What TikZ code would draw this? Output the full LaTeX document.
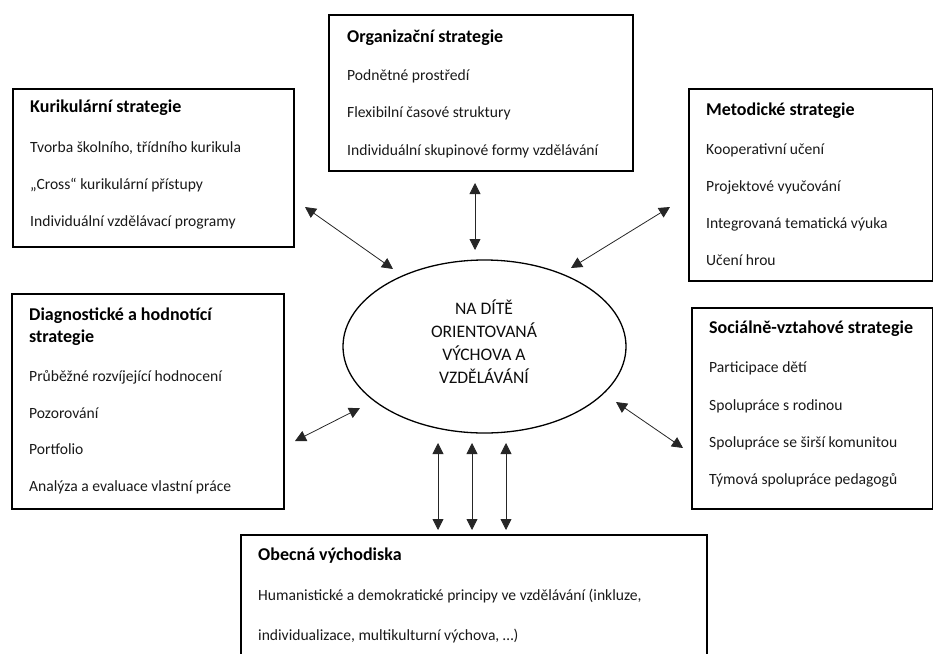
\documentclass[tikz,border=0pt]{standalone}
\usepackage{fontspec}
\setmainfont{Carlito}
\usetikzlibrary{arrows.meta,shapes.geometric}
\tikzset{
  frame/.style={draw=black, line width=1.9pt, anchor=north west, inner sep=0pt},
  ttl/.style={anchor=base west, inner sep=0pt, font=\fontsize{18pt}{22pt}\selectfont\bfseries},
  item/.style={anchor=base west, inner sep=0pt, text=black!90, font=\fontsize{15.6pt}{18pt}\selectfont},
  coretxt/.style={anchor=base, inner sep=0pt, text=black!95, font=\fontsize{17.6pt}{22pt}\selectfont},
  link/.style={{Triangle[length=11pt,width=11pt]}-{Triangle[length=11pt,width=11pt]}, line width=0.8pt, draw=black!85}
}
\begin{document}
\begin{tikzpicture}[x=1pt,y=-1pt]
\useasboundingbox (0,0) rectangle (933,653);
% boxes
\node[frame, minimum width=281pt, minimum height=158pt] (kur) at (12,88) {};
\node[frame, minimum width=304pt, minimum height=156pt] (org) at (328,14) {};
\node[frame, minimum width=244pt, minimum height=192pt] (met) at (688,88) {};
\node[frame, minimum width=241pt, minimum height=201pt] (soc) at (691,307) {};
\node[frame, minimum width=272pt, minimum height=215pt] (diag) at (11,293) {};
\node[frame, minimum width=466pt, minimum height=130pt] (obec) at (240,534) {};
\node[draw, ellipse, line width=1.3pt, minimum width=283pt, minimum height=173pt, inner sep=0pt] (core) at (484.5,346.5) {};
% core text
\node[coretxt] (c1) at (484,314) {NA DÍTĚ};
\node[coretxt] (c2) at (484,337) {ORIENTOVANÁ};
\node[coretxt] (c3) at (484,360) {VÝCHOVA A};
\node[coretxt] (c4) at (484,383) {VZDĚLÁVÁNÍ};
% Kurikularni
\node[ttl] (kurT) at (30,112) {Kurikulární strategie};
\node[item] (kur1) at (30,152.5) {Tvorba školního, třídního kurikula};
\node[item] (kur2) at (30,189.5) {„Cross“ kurikulární přístupy};
\node[item] (kur3) at (30,226.5) {Individuální vzdělávací programy};
% Organizacni
\node[ttl] (orgT) at (347,42.5) {Organizační strategie};
\node[item] (org1) at (347,80) {Podnětné prostředí};
\node[item] (org2) at (347,117.5) {Flexibilní časové struktury};
\node[item] (org3) at (347,155) {Individuální skupinové formy vzdělávání};
% Metodicke
\node[ttl] (metT) at (706,115.5) {Metodické strategie};
\node[item] (met1) at (706,154) {Kooperativní učení};
\node[item] (met2) at (706,191) {Projektové vyučování};
\node[item] (met3) at (706,228) {Integrovaná tematická výuka};
\node[item] (met4) at (706,265) {Učení hrou};
% Socialne
\node[ttl] (socT) at (709,333) {Sociálně-vztahové strategie};
\node[item] (soc1) at (709,372) {Participace dětí};
\node[item] (soc2) at (709,410) {Spolupráce s rodinou};
\node[item] (soc3) at (709,447) {Spolupráce se širší komunitou};
\node[item] (soc4) at (709,484) {Týmová spolupráce pedagogů};
% Diagnosticke
\node[ttl] (diagT) at (29,320) {Diagnostické a hodnotící};
\node[ttl] (diagT2) at (29,342) {strategie};
\node[item] (diag1) at (29,381) {Průběžné rozvíjející hodnocení};
\node[item] (diag2) at (29,418) {Pozorování};
\node[item] (diag3) at (29,454.5) {Portfolio};
\node[item] (diag4) at (29,491.5) {Analýza a evaluace vlastní práce};
% Obecna
\node[ttl] (obecT) at (258,560) {Obecná východiska};
\node[item] (obec1) at (258,600) {Humanistické a demokratické principy ve vzdělávání (inkluze,};
\node[item] (obec2) at (258,640) {individualizace, multikulturní výchova, …)};
% connector ends
\coordinate (kA) at (305,207); \coordinate (kB) at (393,269);
\coordinate (oA) at (475,183); \coordinate (oB) at (475,250);
\coordinate (mA) at (670,207); \coordinate (mB) at (571,268);
\coordinate (dA) at (295,441); \coordinate (dB) at (360,408);
\coordinate (sA) at (616,402); \coordinate (sB) at (683,448);
\coordinate (b1A) at (438,443); \coordinate (b1B) at (438,530);
\coordinate (b2A) at (472,443); \coordinate (b2B) at (472,530);
\coordinate (b3A) at (506,443); \coordinate (b3B) at (506,530);
\draw[link] (kA) -- (kB);
\draw[link] (oA) -- (oB);
\draw[link] (mA) -- (mB);
\draw[link] (dA) -- (dB);
\draw[link] (sA) -- (sB);
\draw[link] (b1A) -- (b1B);
\draw[link] (b2A) -- (b2B);
\draw[link] (b3A) -- (b3B);
\end{tikzpicture}
\end{document}
